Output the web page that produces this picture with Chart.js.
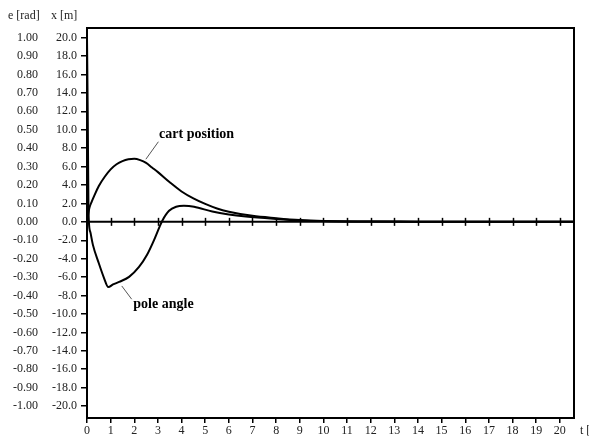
<!DOCTYPE html>
<html>
<head>
<meta charset="utf-8">
<script src="https://cdn.jsdelivr.net/npm/chart.js@4/dist/chart.umd.min.js"></script>
<style>
  html, body { margin: 0; padding: 0; background: #fff; }
  #wrap { position: relative; width: 589px; height: 439px; }
</style>
</head>
<body>
<div id="wrap"><canvas id="c" width="589" height="439"></canvas></div>
<script>
// ---- data ----
const timeTicks = [0,1,2,3,4,5,6,7,8,9,10,11,12,13,14,15,16,17,18,19,20];
const posTicks = [20,18,16,14,12,10,8,6,4,2,0,-2,-4,-6,-8,-10,-12,-14,-16,-18,-20];
const radTicks = [1.0,0.9,0.8,0.7,0.6,0.5,0.4,0.3,0.2,0.1,0,-0.1,-0.2,-0.3,-0.4,-0.5,-0.6,-0.7,-0.8,-0.9,-1.0];

const cartT = [0, 0.05, 0.1, 0.2, 0.3, 0.5, 0.75, 1.0, 1.25, 1.5, 1.75, 2.0, 2.25, 2.5, 2.75, 3.0, 3.5, 4.0, 4.5, 5.0, 5.5, 6.0, 7.0, 8.0, 9.0, 10, 12, 14, 16, 18, 20.6];
const cartX = [0, 0.8, 1.5, 2.2, 2.8, 3.9, 4.9, 5.7, 6.25, 6.6, 6.8, 6.85, 6.7, 6.4, 5.9, 5.4, 4.3, 3.3, 2.55, 1.95, 1.45, 1.1, 0.65, 0.4, 0.2, 0.1, 0.04, 0.02, 0.01, 0, 0];

const poleT = [0, 0.03, 0.06, 0.08, 0.15, 0.25, 0.5, 0.72, 0.9, 1.1, 1.36, 1.78, 2.2, 2.54, 2.84, 3.05, 3.18, 3.47, 3.77, 4.1, 4.53, 5.3, 6.0, 6.72, 8.0, 9.0, 10, 12, 14, 16, 18, 20.6];
const poleE = [1.0, 0.6, 0.1, 0.0, -0.06, -0.125, -0.225, -0.305, -0.354, -0.34, -0.326, -0.299, -0.245, -0.179, -0.098, -0.033, 0.005, 0.06, 0.082, 0.087, 0.082, 0.056, 0.04, 0.029, 0.016, 0.008, 0.004, 0.002, 0.001, 0, 0, 0];

const labels = { cart: 'cart position', pole: 'pole angle', yRad: 'e [rad]', yPos: 'x [m]', xAxis: 't [s]' };
// annotation anchors in data units (t, x[m])
const cartNote = { text: [3.05, 9.5], from: [2.49, 6.8], to: [3.02, 8.7] };
const poleNote = { text: [1.96, -9.0], from: [1.47, -6.96], to: [1.89, -8.4] };

const SERIF = "'Liberation Serif', 'Times New Roman', serif";
Chart.defaults.font.family = SERIF;
Chart.defaults.font.size = 12;
Chart.defaults.color = '#222';

const POS_MIN = -21.3, POS_MAX = 21.05;

const decor = {
  id: 'decor',
  beforeDatasetsDraw(chart) {
    const { ctx, chartArea: a, scales } = chart;
    const xs = scales.x, ys = scales.yPos;
    const y0 = ys.getPixelForValue(0);
    ctx.save();
    ctx.strokeStyle = '#000';
    ctx.lineWidth = 2;
    ctx.beginPath();
    ctx.moveTo(a.left, y0); ctx.lineTo(a.right, y0);
    ctx.stroke();
    ctx.lineWidth = 1.5;
    timeTicks.forEach(t => {
      if (t === 0) return;
      const px = Math.round(xs.getPixelForValue(t)) + 0.5;
      ctx.beginPath(); ctx.moveTo(px, y0 - 4); ctx.lineTo(px, y0 + 4); ctx.stroke();
    });
    ctx.restore();
  },
  afterDraw(chart) {
    const { ctx, chartArea: a, scales } = chart;
    const xs = scales.x, ys = scales.yPos;
    ctx.save();
    ctx.strokeStyle = '#000';
    ctx.lineWidth = 2;
    ctx.strokeRect(a.left, a.top, a.right - a.left, a.bottom - a.top);
    // axis titles
    ctx.fillStyle = '#222';
    ctx.font = '12px ' + SERIF;
    ctx.textBaseline = 'middle';
    ctx.textAlign = 'left';
    ctx.fillText(labels.yRad, 8, 16);
    ctx.fillText(labels.yPos, 51, 16);
    ctx.fillText(labels.xAxis, 580, 431);
    // annotations
    const P = (p) => [xs.getPixelForValue(p[0]), ys.getPixelForValue(p[1])];
    [ [cartNote, labels.cart], [poleNote, labels.pole] ].forEach(([n, txt]) => {
      const f = P(n.from), t = P(n.to), tx = P(n.text);
      ctx.strokeStyle = '#555';
      ctx.lineWidth = 1;
      ctx.beginPath(); ctx.moveTo(f[0], f[1]); ctx.lineTo(t[0], t[1]); ctx.stroke();
      ctx.fillStyle = '#000';
      ctx.font = 'bold 14px ' + SERIF;
      ctx.textAlign = 'left';
      ctx.textBaseline = 'middle';
      ctx.fillText(txt, tx[0], tx[1]);
    });
    ctx.restore();
  }
};

new Chart(document.getElementById('c'), {
  type: 'scatter',
  data: {
    datasets: [
      {
        label: labels.cart,
        data: cartT.map((t, i) => ({ x: t, y: cartX[i] })),
        yAxisID: 'yPos',
        showLine: true, borderColor: '#000', borderWidth: 2, pointRadius: 0,
        cubicInterpolationMode: 'monotone'
      },
      {
        label: labels.pole,
        data: poleT.map((t, i) => ({ x: t, y: poleE[i] })),
        yAxisID: 'yRad',
        showLine: true, borderColor: '#000', borderWidth: 2, pointRadius: 0,
        cubicInterpolationMode: 'monotone'
      }
    ]
  },
  options: {
    responsive: false,
    animation: false,
    layout: { padding: { top: 28, right: 15, left: 0, bottom: 0 } },
    plugins: { legend: { display: false }, tooltip: { enabled: false } },
    scales: {
      x: {
        type: 'linear', min: 0, max: 20.6,
        afterBuildTicks: s => { s.ticks = timeTicks.map(v => ({ value: v })); },
        afterFit: s => { s.height = 21; },
        grid: { drawOnChartArea: false, drawTicks: true, tickLength: 5, color: '#000', lineWidth: 1.5 },
        border: { display: true, color: '#000', width: 2 },
        ticks: { padding: 1, maxRotation: 0, autoSkip: false, color: '#222', font: { size: 12 },
                 callback: v => String(v) }
      },
      yRad: {
        type: 'linear', position: 'left', weight: 2,
        min: POS_MIN / 20, max: POS_MAX / 20,
        afterBuildTicks: s => { s.ticks = radTicks.map(v => ({ value: v })); },
        afterFit: s => { s.width = 45; },
        grid: { display: false, drawTicks: false },
        border: { display: false },
        ticks: { padding: 7, autoSkip: false, color: '#222', font: { size: 12 },
                 callback: v => Number(v).toFixed(2) }
      },
      yPos: {
        type: 'linear', position: 'left', weight: 1,
        min: POS_MIN, max: POS_MAX,
        afterBuildTicks: s => { s.ticks = posTicks.map(v => ({ value: v })); },
        afterFit: s => { s.width = 42; },
        grid: { drawOnChartArea: false, drawTicks: true, tickLength: 6, color: '#000', lineWidth: 1.5 },
        border: { display: true, color: '#000', width: 2 },
        ticks: { padding: 4, autoSkip: false, color: '#222', font: { size: 12 },
                 callback: v => Number(v).toFixed(1) }
      }
    }
  },
  plugins: [decor]
});
</script>
</body>
</html>
